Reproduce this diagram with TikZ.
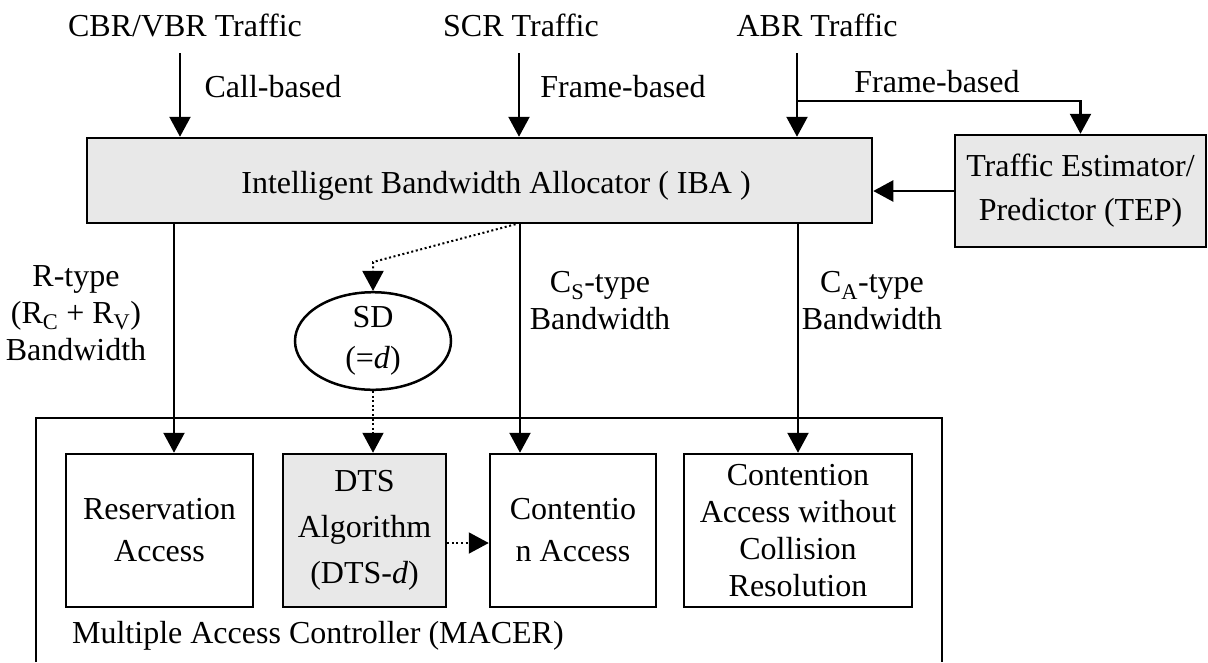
\documentclass[tikz,border=0pt]{standalone}
\usepackage{fontspec}
\setmainfont{Liberation Serif}
\usetikzlibrary{arrows.meta,shapes.geometric}
\definecolor{boxgray}{RGB}{232,232,232}

\begin{document}
\begin{tikzpicture}[x=1pt,y=-1pt,
  font=\fontsize{32}{37}\selectfont,
  line width=2.3pt,
  arr/.style={-{Triangle[width=21pt,length=20pt]}},
  dotarr/.style={arr, line width=2pt, dash pattern=on 2pt off 2.6pt},
  blk/.style={draw, line width=2.5pt, inner sep=0pt, align=center},
  lbl/.style={inner sep=0pt, align=center}
]
\useasboundingbox (0,0) rectangle (1208,662);

% main blocks
\node[blk, fill=boxgray, minimum width=785pt, minimum height=85pt] (iba) at (479.5,180.5) {};
\node[lbl, anchor=base] (ibatext) at (496,193) {Intelligent Bandwidth Allocator ( IBA )};
\node[blk, fill=boxgray, minimum width=251pt, minimum height=112pt,
  font=\fontsize{32}{44}\selectfont] (tep) at (1080.5,191)
  {Traffic Estimator/\\Predictor (TEP)};

% traffic sources
\node[lbl, anchor=base] (cbr) at (185,36) {CBR/VBR Traffic};
\node[lbl, anchor=base] (scr) at (521,36) {SCR Traffic};
\node[lbl, anchor=base] (abr) at (817,36) {ABR Traffic};
\node[lbl, anchor=base] (callb) at (273,97) {Call-based};
\node[lbl, anchor=base] (frameb) at (623,97) {Frame-based};
\node[lbl, anchor=base] (frameb2) at (937,92) {Frame-based};

\coordinate (cbrtop) at (180,53);
\coordinate (scrtop) at (519,53);
\coordinate (abrtop) at (797,53);
\coordinate (abrsplit) at (797,101);

\draw[arr] (cbrtop) -- (cbrtop |- iba.north);
\draw[arr] (scrtop) -- (scrtop |- iba.north);
\draw[arr] (abrtop) -- (abrtop |- iba.north);
\draw[arr] (abrsplit) -| (tep.north);
\draw[arr] (tep.west) -- (iba.east |- tep.west);

% slot determination
\node[draw, ellipse, line width=2.5pt, minimum width=156pt, minimum height=92pt, inner sep=0pt,
  align=center, font=\fontsize{32}{41}\selectfont] (sd) at (373,341) {SD\\(=\textit{d})};

% MAC controller
\draw[line width=2.5pt] (36,662) -- (36,418) -- (942,418) -- (942,662);
\node[lbl, anchor=west] (macer) at (71,636) {Multiple Access Controller (MACER)};

\node[blk, minimum width=187pt, minimum height=153pt, font=\fontsize{32}{42}\selectfont] (res) at (159.5,530.5)
  {Reservation\\Access};
\node[blk, fill=boxgray, minimum width=163pt, minimum height=153pt, font=\fontsize{32}{46}\selectfont] (dts) at (364.5,530.5)
  {DTS\\Algorithm\\(DTS-\textit{d})};
\node[blk, minimum width=166pt, minimum height=153pt, font=\fontsize{32}{42}\selectfont] (cont) at (573,530.5)
  {Contentio\\n Access};
\node[blk, minimum width=228pt, minimum height=153pt, font=\fontsize{32}{37}\selectfont] (cwo) at (798,530.5)
  {Contention\\Access without\\Collision\\Resolution};

% bandwidth outputs
\coordinate (xr) at (174,0);
\coordinate (xcs) at (520,0);
\coordinate (bend) at (373,262);

\draw[arr] (iba.south -| xr) -- (res.north -| xr);
\draw[arr] (iba.south -| xcs) -- (cont.north -| xcs);
\draw[arr] (iba.south -| cwo.north) -- (cwo.north);
\draw[dotarr] ([xshift=36pt]iba.south) -- (bend) -- (sd.north);
\draw[dotarr] (sd.south) -- (dts.north -| sd.south);
\draw[dotarr] (dts.east |- 0,543) -- (cont.west |- 0,543);

\node[lbl] (rlab) at (76,313) {R-type\\(R\textsubscript{C} + R\textsubscript{V})\\Bandwidth};
\node[lbl] (cslab) at (600,301) {C\textsubscript{S}-type\\Bandwidth};
\node[lbl] (calab) at (872,301) {C\textsubscript{A}-type\\Bandwidth};
\end{tikzpicture}
\end{document}
